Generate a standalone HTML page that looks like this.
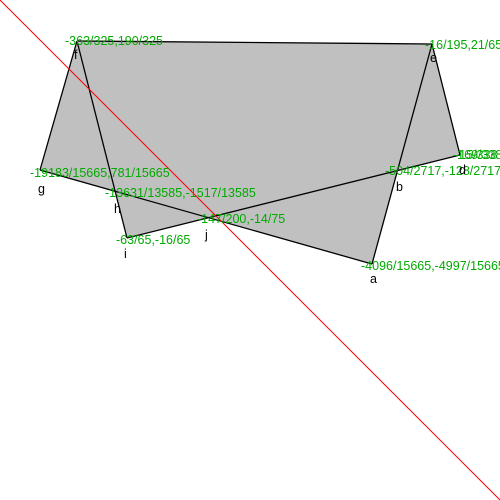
<!DOCTYPE html>
<html><head><meta charset="utf-8"><style>body{margin:0;background:#fff}svg{display:block}text{font-family:"Liberation Sans",sans-serif;font-size:12.5px}</style></head>
<body>
<svg width="500" height="500">
<polygon fill="#c0c0c0" stroke="none" points="77,41 432,44 460,155 397.4,170.7 372,264 208.5,217.7 127,238 115.2,191.3 40,170"/>
<g stroke="#000" stroke-width="1.3" fill="none">
<line x1="77" y1="41" x2="432" y2="44"/>
<line x1="432" y1="44" x2="460" y2="155"/>
<line x1="460" y1="155" x2="127" y2="238"/>
<line x1="127" y1="238" x2="77" y2="41"/>
<line x1="40" y1="170" x2="77" y2="41"/>
<line x1="40" y1="170" x2="372" y2="264"/>
<line x1="372" y1="264" x2="432" y2="44"/>
</g>
<line x1="0" y1="0" x2="500" y2="500" stroke="#f00" stroke-width="1"/>
<g fill="#00aa00">
<text x="65" y="45">-363/325,190/325</text>
<text x="425" y="49">-16/195,21/65</text>
<text x="453" y="159">-169/338</text>
<text x="455" y="159">-15/338</text>
<text x="385" y="175">-504/2717,-128/2717</text>
<text x="30" y="177">-19183/15665,781/15665</text>
<text x="105" y="197">-13631/13585,-1517/13585</text>
<text x="197" y="223">-147/200,-14/75</text>
<text x="116" y="244">-63/65,-16/65</text>
<text x="361" y="270">-4096/15665,-4997/15665</text>
</g>
<g fill="#000">
<text x="74" y="59">f</text>
<text x="430" y="62">e</text>
<text x="459" y="174">d</text>
<text x="396" y="191">b</text>
<text x="38" y="193">g</text>
<text x="114" y="213">h</text>
<text x="124" y="258">i</text>
<text x="205" y="239">j</text>
<text x="370" y="283">a</text>
</g>
</svg>
</body></html>
